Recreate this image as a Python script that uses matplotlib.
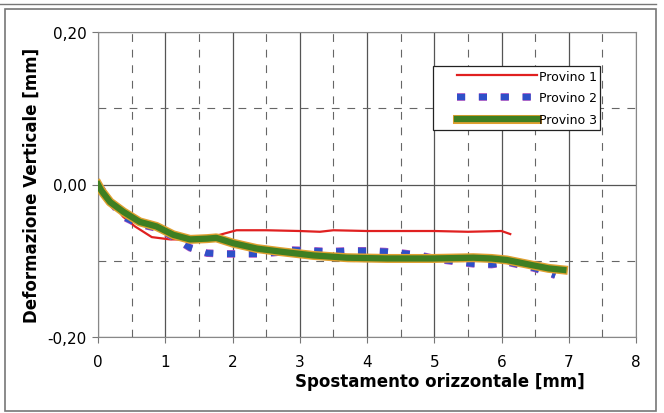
import matplotlib as mpl
mpl.use('Agg')
import matplotlib.pyplot as plt
import matplotlib.patheffects as pe
from matplotlib.legend_handler import HandlerLine2D
from matplotlib.ticker import MultipleLocator, FuncFormatter

# Provino 1 (red)
x1 = [0, 0.1, 0.2, 0.37, 0.55, 0.8, 1.07, 1.3, 1.5, 1.81, 2.06, 2.5, 3.0, 3.3,
      3.5, 4.0, 4.5, 5.0, 5.5, 6.0, 6.13]
y1 = [0, -0.012, -0.022, -0.042, -0.055, -0.069, -0.072, -0.072, -0.071, -0.066,
      -0.060, -0.060, -0.061, -0.062, -0.060, -0.061, -0.061, -0.061, -0.062,
      -0.061, -0.065]

# Provino 2 (blue dashes)
x2 = [0, 0.2, 0.37, 0.6, 0.87, 1.1, 1.37, 1.62, 1.89, 2.16, 2.41, 2.65, 2.9, 3.2,
      3.45, 3.72, 3.99, 4.27, 4.52, 4.79, 5.05, 5.31, 5.58, 5.85, 6.1, 6.5, 6.8]
y2 = [0, -0.024, -0.042, -0.052, -0.057, -0.068, -0.083, -0.090, -0.091, -0.091,
      -0.091, -0.089, -0.086, -0.087, -0.088, -0.087, -0.087, -0.088, -0.090,
      -0.093, -0.098, -0.101, -0.104, -0.105, -0.102, -0.110, -0.119]

# Provino 3 (green thick)
x3 = [0, 0.05, 0.18, 0.38, 0.62, 0.87, 1.12, 1.37, 1.62, 1.76, 2.01, 2.36, 2.71,
      3.2, 3.7, 4.3, 4.98, 5.58, 5.85, 6.08, 6.47, 6.7, 6.92]
y3 = [0, -0.008, -0.023, -0.036, -0.049, -0.055, -0.066, -0.072, -0.071, -0.070,
      -0.077, -0.084, -0.088, -0.093, -0.096, -0.097, -0.097, -0.096, -0.097,
      -0.099, -0.106, -0.110, -0.112]

labels = ['Provino 1', 'Provino 2', 'Provino 3']

fig = plt.figure(figsize=(6.64, 4.14), dpi=100)
ax = fig.add_axes([98/664, 1-338/414, 538/664, 305/414])

# outer chart frame
fig.add_artist(plt.Rectangle((5/664, 1-412/414), 651/664, 402/414, fill=False,
                             edgecolor='#777777', lw=1.2, transform=fig.transFigure))
fig.add_artist(plt.Line2D([0, 656/664], [1-5/414, 1-5/414], color='#777777',
                          lw=1.0, transform=fig.transFigure))

ax.set_xlim(0, 8)
ax.set_ylim(-0.2, 0.2)
ax.xaxis.set_major_locator(MultipleLocator(1))
ax.xaxis.set_minor_locator(MultipleLocator(0.5))
ax.yaxis.set_major_locator(MultipleLocator(0.2))
ax.yaxis.set_minor_locator(MultipleLocator(0.1))
ax.yaxis.set_major_formatter(FuncFormatter(lambda v, p: ('%.2f' % v).replace('.', ',')))

ax.grid(which='major', color='#555555', lw=0.9)
ax.grid(which='minor', color='#666666', lw=0.8, linestyle=(0, (7, 7)))
ax.tick_params(which='minor', length=0)
ax.tick_params(which='major', length=4, color='#777777', labelsize=11, pad=4)
ax.tick_params(axis='x', pad=8)
for s in ax.spines.values():
    s.set_color('#888888')
ax.set_axisbelow(True)

ax.plot(x1, y1, color='#e02020', lw=1.6, label=labels[0], zorder=3)
ax.plot(x2, y2, color='#2f50c8', lw=4.5, linestyle=(0, (1.3, 2.2)),
        dash_capstyle='butt', label=labels[1], zorder=4,
        path_effects=[pe.Stroke(linewidth=5.5, foreground='#b050c0'), pe.Normal()])
ax.plot(x3, y3, color='#3e7f22', lw=4.5, label=labels[2], zorder=5,
        path_effects=[pe.Stroke(linewidth=6.5, foreground='#e0a030'), pe.Normal()])

leg = ax.legend(loc='upper left', bbox_to_anchor=(0.6227, 0.889), fontsize=9,
                handlelength=8.0, handletextpad=0.15, borderpad=0.3,
                borderaxespad=0, labelspacing=0.7, fancybox=False, framealpha=1,
                edgecolor='#222222',
                handler_map={mpl.lines.Line2D: HandlerLine2D(xpad=1.6)})
leg.get_frame().set_linewidth(0.9)

ax.set_xlabel('Spostamento orizzontale [mm]', fontsize=12, fontweight='bold')
ax.xaxis.set_label_coords(0.636, -0.115)
ax.set_ylabel('Deformazione Verticale [mm]', fontsize=12, fontweight='bold')
ax.yaxis.set_label_coords(-0.106, 0.5)

fig.savefig('out.png', dpi=100)
